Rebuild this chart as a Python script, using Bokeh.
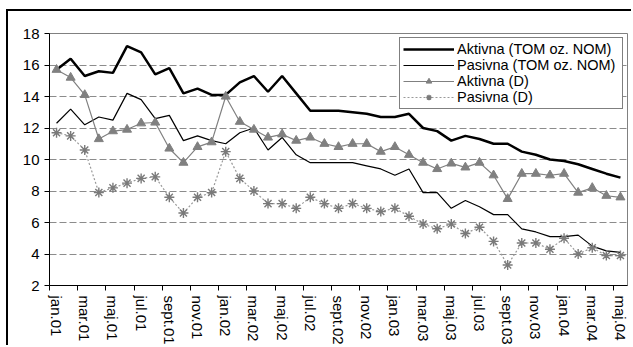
import numpy as np
from bokeh.plotting import figure
from bokeh.models import (LinearAxis, FixedTicker, Range1d, Legend, LegendItem)
from bokeh.embed import file_html
from bokeh.resources import INLINE

# ---- data -------------------------------------------------------------
month_names = ["jan", "feb", "mar", "apr", "maj", "jun",
               "jul", "avg", "sept", "okt", "nov", "dec"]
months = [f"{m}.{y:02d}" for y in (1, 2, 3) for m in month_names] + \
         [f"{m}.04" for m in month_names[:5]]

tick_labels = months[::2]

aktivna_tom = [15.7, 16.4, 15.3, 15.6, 15.5, 17.2, 16.8, 15.4, 15.8, 14.2,
               14.5, 14.1, 14.1, 14.9, 15.3, 14.3, 15.3, 14.2, 13.1, 13.1,
               13.1, 13.0, 12.9, 12.7, 12.7, 12.9, 12.0, 11.8, 11.2, 11.5,
               11.3, 11.0, 11.0, 10.5, 10.3, 10.0, 9.9, 9.7, 9.4, 9.1, 8.85]

pasivna_tom = [12.3, 13.2, 12.2, 12.7, 12.5, 14.2, 13.8, 12.6, 12.8, 11.2,
               11.5, 11.2, 11.0, 11.7, 12.0, 10.6, 11.4, 10.3, 9.8, 9.8,
               9.8, 9.8, 9.6, 9.4, 9.0, 9.4, 7.9, 7.9, 6.9, 7.4,
               7.0, 6.5, 6.5, 5.6, 5.4, 5.1, 5.1, 5.2, 4.5, 4.2, 4.1]

aktivna_d = [15.7, 15.2, 14.1, 11.3, 11.8, 11.9, 12.3, 12.35, 10.7, 9.8,
             10.8, 11.1, 14.0, 12.4, 11.9, 11.4, 11.6, 11.2, 11.4, 11.0,
             10.8, 11.0, 11.0, 10.5, 10.8, 10.3, 9.8, 9.4, 9.75, 9.5,
             9.8, 9.0, 7.5, 9.1, 9.1, 9.0, 9.1, 7.9, 8.2, 7.7, 7.6]

pasivna_d = [11.7, 11.5, 10.6, 7.9, 8.2, 8.5, 8.8, 8.9, 7.6, 6.6,
             7.6, 7.9, 10.5, 8.8, 8.0, 7.2, 7.2, 6.9, 7.6, 7.2,
             6.9, 7.2, 6.9, 6.7, 6.9, 6.4, 5.9, 5.6, 5.9, 5.3,
             5.7, 4.8, 3.3, 4.7, 4.7, 4.3, 5.0, 4.0, 4.4, 3.9, 3.9]

series_names = ["Aktivna (TOM oz. NOM)", "Pasivna (TOM oz. NOM)",
                "Aktivna (D)", "Pasivna (D)"]

y_ticks = [2, 4, 6, 8, 10, 12, 14, 16, 18]

# ---- figure -----------------------------------------------------------
x = list(range(len(months)))
FONT = "Liberation Sans"

p = figure(width=625, height=336, output_backend="svg", toolbar_location=None,
           x_range=Range1d(-0.5, len(months) - 0.5), y_range=Range1d(2, 18),
           min_border_left=41, min_border_top=22, min_border_right=6,
           min_border_bottom=0)
# outer chart frame (left and top edges of the chart area)
p.styles = {"margin-left": "6px", "margin-top": "9px",
            "border-left": "2px solid #000", "border-top": "2px solid #000"}
p.background_fill_color = "white"
p.border_fill_color = "white"
p.outline_line_color = "#808080"
p.outline_line_width = 1

# y axis
yax = p.yaxis[0]
yax.ticker = FixedTicker(ticks=y_ticks)
yax.axis_line_color = "black"
yax.axis_line_width = 1
yax.major_tick_line_color = "black"
yax.major_tick_out = 5
yax.major_tick_in = 0
yax.minor_tick_out = 0
yax.minor_tick_in = 0
yax.major_label_standoff = 5
yax.major_label_text_font = FONT
yax.major_label_text_font_size = "15px"
yax.major_label_text_color = "black"

# grid
p.xgrid.visible = False
p.ygrid.ticker = FixedTicker(ticks=y_ticks[1:-1])
p.ygrid.grid_line_color = "#8c8c8c"
p.ygrid.grid_line_dash = "7 3"
p.ygrid.grid_line_width = 1

# x axis: tick marks between categories (no labels)
xax = p.xaxis[0]
xax.ticker = FixedTicker(ticks=[i - 0.5 for i in range(0, len(months), 2)])
xax.axis_line_color = "black"
xax.axis_line_width = 1
xax.major_tick_line_color = "black"
xax.major_tick_out = 5
xax.major_tick_in = 0
xax.minor_tick_out = 0
xax.minor_tick_in = 0
xax.major_label_text_font_size = "1px"
xax.major_label_text_color = None
xax.major_label_standoff = 0

# x axis: labels at category centres
lab_ticks = list(range(0, len(months), 2))
xlab = LinearAxis(ticker=FixedTicker(ticks=lab_ticks),
                  major_label_overrides={t: lab for t, lab in zip(lab_ticks, tick_labels)},
                  major_label_orientation="vertical",
                  axis_line_color=None, major_tick_line_color=None,
                  minor_tick_line_color=None,
                  major_tick_out=0, major_tick_in=0,
                  minor_tick_out=0, minor_tick_in=0,
                  major_label_standoff=5,
                  major_label_text_font=FONT,
                  major_label_text_font_size="15px",
                  major_label_text_color="black")
p.add_layout(xlab, "below")

# ---- series -----------------------------------------------------------
r1 = p.line(x, aktivna_tom, line_color="black", line_width=2.5)
r2 = p.line(x, pasivna_tom, line_color="black", line_width=1.2)
r3l = p.line(x, aktivna_d, line_color="#808080", line_width=1.2)
r3s = p.scatter(x, aktivna_d, marker="triangle", size=9,
                fill_color="#808080", line_color="#808080")
r4l = p.line(x, pasivna_d, line_color="#999999", line_width=1.2, line_dash="2 2")
r4s = p.scatter(x, pasivna_d, marker="asterisk", size=10,
                line_color="#7a7a7a", line_width=1.4)

legend = Legend(items=[LegendItem(label=series_names[0], renderers=[r1]),
                       LegendItem(label=series_names[1], renderers=[r2]),
                       LegendItem(label=series_names[2], renderers=[r3l, r3s]),
                       LegendItem(label=series_names[3], renderers=[r4l, r4s])],
                location="top_right", margin=4, padding=3, spacing=0,
                glyph_width=51, glyph_height=14, label_height=14,
                label_width=162, label_standoff=3,
                label_text_font=FONT, label_text_font_size="14.5px",
                label_text_color="black",
                border_line_color="black", border_line_width=1,
                background_fill_color="white", background_fill_alpha=1)
p.add_layout(legend)

open("out.html", "w").write(file_html(p, INLINE))
